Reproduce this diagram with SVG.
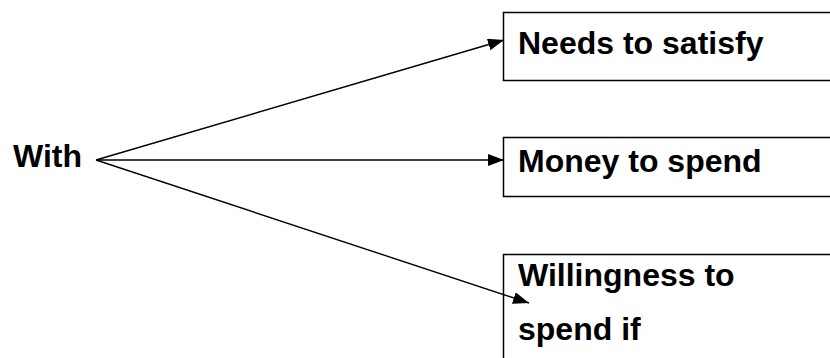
<svg xmlns="http://www.w3.org/2000/svg" width="830" height="358" viewBox="0 0 830 358">
  <style>
    .box { fill: #ffffff; stroke: #000000; stroke-width: 1.5; }
    .lbl { font-family: "Liberation Sans", Arial, sans-serif; font-weight: bold; font-size: 32px; fill: #000000; }
    .edge { stroke: #000000; stroke-width: 1.4; fill: none; marker-end: url(#arrow); }
  </style>
  <defs>
    <marker id="arrow" viewBox="0 0 16 12" refX="16" refY="6" markerWidth="16" markerHeight="12" markerUnits="userSpaceOnUse" orient="auto">
      <path d="M0,0 L16,6 L0,12 Z" fill="#000000"/>
    </marker>
  </defs>
  <rect width="830" height="358" fill="#ffffff"/>

  <g id="source">
    <text class="lbl" x="13" y="167">With</text>
  </g>

  <g id="needs">
    <rect class="box" x="503.5" y="12.5" width="340" height="68"/>
    <text class="lbl" x="518" y="54">Needs to satisfy</text>
  </g>

  <g id="money">
    <rect class="box" x="503.5" y="137.5" width="340" height="59"/>
    <text class="lbl" x="518" y="172">Money to spend</text>
  </g>

  <g id="willingness">
    <rect class="box" x="503.5" y="254.5" width="340" height="120"/>
    <text class="lbl" x="518" y="286">Willingness to</text>
    <text class="lbl" x="518" y="340">spend if</text>
  </g>

  <g id="connectors">
    <line class="edge" x1="96" y1="160" x2="504" y2="40"/>
    <line class="edge" x1="96" y1="160" x2="504" y2="160"/>
    <line class="edge" x1="96" y1="160" x2="529" y2="303"/>
  </g>
</svg>
